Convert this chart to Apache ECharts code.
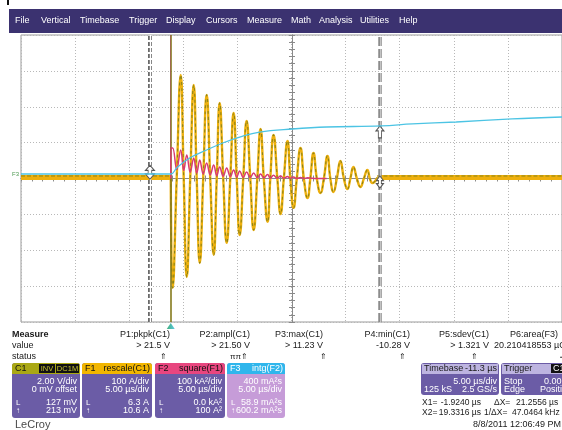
<!DOCTYPE html>
<html><head><meta charset="utf-8">
<script src="https://cdn.jsdelivr.net/npm/echarts@6/dist/echarts.min.js"></script>
<style>html,body{margin:0;padding:0;background:#fff}#c{width:562px;height:430px}</style>
</head><body><div id="c"></div>
<script>
// ---- screen / timebase ----
const T_LEFT = -13.84;          // µs at left edge of screen (trigger at 0)
const X1_CURSOR = -1.924;       // µs
const X2_CURSOR = 19.3316;      // µs

// ---- C1 / F1 ringing: peaks, troughs and baseline crossings (µs, V) ----
const c1Times = [0, 0.18, 0.55, 0.92, 1.20, 1.48, 1.80, 2.12, 2.40, 2.68, 3.00, 3.32, 3.65, 3.97, 4.25, 4.52, 4.85, 5.17, 5.50, 5.81, 6.10, 6.37, 6.70, 7.01, 7.35, 7.66, 8.00, 8.30, 8.60, 8.95, 9.20, 9.50, 9.85, 10.15, 10.45, 10.79, 11.05, 11.35, 11.65, 11.99, 12.30, 12.64, 12.90, 13.19, 13.50, 13.84, 14.15, 14.48, 14.75, 15.04, 15.35, 15.68, 16.00, 16.33, 16.60, 16.88, 17.20, 17.53, 17.85, 18.17, 18.40, 18.63, 19.10];
const c1Volts = [0, -6.10, 0, 5.77, 0, -5.49, 0, 5.21, 0, -4.71, 0, 4.66, 0, -4.26, 0, 4.21, 0, -3.59, 0, 3.65, 0, -3.15, 0, 3.21, 0, -2.87, 0, 2.76, 0, -2.42, 0, 2.43, 0, -1.98, 0, 2.09, 0, -1.64, 0, 1.70, 0, -1.09, 0, 1.42, 0, -0.81, 0, 1.26, 0, -0.75, 0, 0.98, 0, -0.59, 0, 0.64, 0, -0.47, 0, 0.47, 0, -0.25, 0.05];
// flat baseline before trigger and after ringing
const baseTimesPre = [-13.84, 0];
const baseTimesPost = [19.10, 36.20];
const baseLevel = 0.05;

// ---- F2 square(F1) (screen units, V-equivalent) ----
const f2Times = [0, 0.02, 0.18, 0.55, 0.92, 1.20, 1.48, 1.80, 2.12, 2.40, 2.68, 3.00, 3.32, 3.65, 3.97, 4.25, 4.52, 4.85, 5.17, 5.50, 5.81, 6.10, 6.37, 6.70, 7.01, 7.35, 7.66, 8.00, 8.30, 8.60, 8.95, 9.20, 9.50, 9.85, 10.15, 10.45, 10.79, 11.05, 11.35, 11.65, 11.99, 12.30, 12.64, 13.5, 14.4];
const f2Vals  = [0, 1.70, 1.70, 0.50, 1.59, 0.45, 1.31, 0.35, 1.14, 0.30, 1.03, 0.25, 0.87, 0.20, 0.75, 0.15, 0.64, 0.12, 0.59, 0.10, 0.47, 0.08, 0.42, 0.06, 0.36, 0.05, 0.31, 0.04, 0.25, 0.03, 0.22, 0.02, 0.18, 0.02, 0.14, 0.01, 0.11, 0.01, 0.08, 0.0, 0.06, 0.0, 0.04, 0.0, 0.0];

// ---- F3 intg(F2) ----
const f3Times = [-13.84, 0, 0.55, 1.75, 3.32, 4.80, 6.37, 8.21, 11.25, 14.39, 19.46, 22.32, 26.38, 31.55, 36.20];
const f3Vals  = [0.25, 0.25, 0.59, 1.14, 1.59, 1.98, 2.31, 2.59, 2.76, 2.87, 2.93, 3.04, 3.15, 3.32, 3.43];

// ---- texts ----
const menuItems = ['File','Vertical','Timebase','Trigger','Display','Cursors','Measure','Math','Analysis','Utilities','Help'];
const menuX = [15, 41, 80, 129, 166, 206, 247, 291, 319, 360, 399];
const measNames = ['P1:pkpk(C1)','P2:ampl(C1)','P3:max(C1)','P4:min(C1)','P5:sdev(C1)'];
const measValues = ['> 21.5 V','> 21.50 V','> 11.23 V','-10.28 V','> 1.321 V'];
const measStatus = ['\u21D1','\u03C0\u03C0\u21D1','\u21D1','\u21D1','\u21D1'];
const p6Name = 'P6:area(F3)';
const p6Value = '20.210418553 \u00B5C';

const chanTitles = ['C1','F1','F2','F3'];
const chanFuncs = ['','rescale(C1)','square(F1)','intg(F2)'];
const chanLines = [
  ['2.00 V/div','0 mV offset','127 mV','213 mV'],
  ['100 A/div','5.00 \u00B5s/div','6.3 A','10.6 A'],
  ['100 kA\u00B2/div','5.00 \u00B5s/div','0.0 kA\u00B2','100 A\u00B2'],
  ['400 mA\u00B2s','5.00 \u00B5s/div','58.9 mA\u00B2s','600.2 mA\u00B2s']
];

const toXY = (ts, vs) => ts.map((t, i) => [t - T_LEFT, vs[i]]);

const GOLD = '#eeb00e', OLIVE = '#8c8416', PINK = '#d93a72', CYAN = '#4cc4e4';
const FONT = '"Liberation Sans", Arial, sans-serif';

const chart = echarts.init(document.getElementById('c'), null, {renderer: 'canvas'});

const tickAxis = (pos, isX) => ({
  type: 'value', min: isX ? 0 : -8, max: isX ? 50 : 8, interval: isX ? 5 : 2,
  position: pos, offset: isX ? -143.5 : -271,
  axisLine: {show: true, lineStyle: {color: '#8a8a8a', width: 1}},
  axisTick: {show: true, length: 3, lineStyle: {color: '#8a8a8a'}},
  minorTick: {show: true, splitNumber: 5, length: 3, lineStyle: {color: '#8a8a8a'}},
  axisLabel: {show: false},
  splitLine: {show: false}
});

const xMain = tickAxis('bottom', true);
xMain.splitLine = {show: true, lineStyle: {color: '#b8b8b8', type: [1, 2], width: 1}};
const yMain = tickAxis('left', false);
yMain.splitLine = {show: true, lineStyle: {color: '#b8b8b8', type: [1, 2], width: 1}};

const option = {
  animation: false,
  backgroundColor: '#ffffff',
  grid: {left: 21, top: 35, width: 542, height: 287, show: true, borderColor: '#9a9a9a', borderWidth: 1, backgroundColor: '#ffffff'},
  xAxis: [xMain, tickAxis('top', true)],
  yAxis: [yMain, tickAxis('right', false)],
  series: [
    {type: 'line', name: 'band-pre', data: toXY(baseTimesPre, [baseLevel, baseLevel]), showSymbol: false, z: 2,
     lineStyle: {color: GOLD, width: 5}},
    {type: 'line', name: 'band-post', data: toXY(baseTimesPost, [baseLevel, baseLevel]), showSymbol: false, z: 2,
     lineStyle: {color: GOLD, width: 5}},
    {type: 'line', name: 'F1', data: toXY(c1Times, c1Volts), showSymbol: false, smooth: 0.5, z: 3,
     lineStyle: {color: GOLD, width: 2.4}},
    {type: 'line', name: 'C1', data: toXY(c1Times, c1Volts), showSymbol: false, smooth: 0.5, z: 4,
     lineStyle: {color: OLIVE, width: 1.1, type: [3, 3]},
     markLine: {silent: true, symbol: 'none', label: {show: false},
       data: [[{coord: [0 - T_LEFT, 8], lineStyle: {color: '#857a1c', width: 1.6, type: 'solid'}}, {coord: [0 - T_LEFT, -8]}],
              [{coord: [0 - T_LEFT, 8], lineStyle: {color: '#a0305a', width: 0.8, type: 'solid', opacity: 0.55}}, {coord: [0 - T_LEFT, 0]}]]}},
    {type: 'line', name: 'noise-pre', data: toXY(baseTimesPre, [0.14, 0.14]), showSymbol: false, z: 4,
     lineStyle: {color: OLIVE, width: 1, type: [4, 2]}},
    {type: 'line', name: 'noise-post', data: toXY(baseTimesPost, [0.14, 0.14]), showSymbol: false, z: 4,
     lineStyle: {color: OLIVE, width: 1, type: [4, 2]}},
    {type: 'line', name: 'F2', data: toXY(f2Times, f2Vals), showSymbol: false, smooth: 0.4, z: 5,
     lineStyle: {color: PINK, width: 1.5}},
    {type: 'line', name: 'F3', data: toXY(f3Times, f3Vals), showSymbol: false, smooth: 0.4, z: 6,
     lineStyle: {color: CYAN, width: 1.3},
     markPoint: {silent: true, symbol: 'path://M5,0 L10,5 L7,5 L7,12 L3,12 L3,5 L0,5 Z', symbolSize: [8, 12],
       symbolOffset: [0, 6], itemStyle: {color: '#ffffff', borderColor: '#555', borderWidth: 1}, label: {show: false},
       data: [{coord: [X2_CURSOR - T_LEFT, 2.93]}]}},
    {type: 'line', name: 'cursors', data: [], z: 10,
     markLine: {silent: true, symbol: 'none', label: {show: false},
       data: [
         {xAxis: X1_CURSOR - T_LEFT, lineStyle: {color: '#6a6a6a', width: 4, type: [4, 2]}},
         {xAxis: X1_CURSOR - T_LEFT, lineStyle: {color: '#ffffff', width: 1.4, type: 'solid'}},
         {xAxis: X2_CURSOR - T_LEFT, lineStyle: {color: '#8c8c8c', width: 3.5, type: [9, 3]}},
         {xAxis: X2_CURSOR - T_LEFT, lineStyle: {color: '#c4c4c4', width: 1, type: [9, 3]}}
       ]},
     markPoint: {silent: true, symbol: 'path://M5,0 L10,6 L7,6 L7,10 L10,10 L5,16 L0,10 L3,10 L3,6 L0,6 Z', symbolSize: [9, 14],
       itemStyle: {color: '#ffffff', borderColor: '#555', borderWidth: 1}, label: {show: false},
       data: [{coord: [X1_CURSOR - T_LEFT, 0.35]}, {coord: [X2_CURSOR - T_LEFT, -0.2], symbolSize: [7, 12]}]}}
  ]
};
chart.setOption(option);

// ---------- decorations / texts ----------
const G = [];
const txt = (text, x, y, o = {}) => G.push({type: 'text', z: 100, silent: true, style: {
  text, x, y, fill: o.fill || '#1a1a1a', font: (o.bold ? 'bold ' : '') + (o.size || 9) + 'px ' + FONT,
  textAlign: o.align || 'left', textVerticalAlign: 'middle', verticalAlign: 'middle'}});
const rect = (x, y, w, h, fill, o = {}) => G.push({type: 'rect', z: o.z || 90, silent: true,
  shape: {x, y, width: w, height: h, r: o.r || 0}, style: {fill, stroke: o.stroke || null, lineWidth: o.lw || 0}});

// top-left mark and menu bar
rect(7, 0, 2, 5, '#111');
rect(9, 9, 560, 24, '#3b3270');
menuItems.forEach((m, i) => txt(m, menuX[i], 21, {fill: '#ffffff', size: 9}));

// F3 trace label at left
txt('F3', 12, 174, {fill: '#4e9a52', size: 6});

// trigger marker
const trig = chart.convertToPixel({xAxisIndex: 0, yAxisIndex: 0}, [0 - T_LEFT, -8]);
G.push({type: 'polygon', z: 100, silent: true, shape: {points: [[trig[0] - 4, trig[1] + 7], [trig[0] + 4, trig[1] + 7], [trig[0], trig[1] + 1]]},
  style: {fill: new echarts.graphic.LinearGradient(0, 0, 1, 0, [{offset: 0, color: '#3fae7a'}, {offset: 1, color: '#5cc8e0'}])}});

// measure table
txt('Measure', 12, 335, {bold: true});
txt('value', 12, 346);
txt('status', 12, 357);
const measRight = [170, 250, 323, 410, 489];
const statusX = [167, 248, 327, 406, 478];
measNames.forEach((n, i) => {
  txt(n, measRight[i], 335, {align: 'right'});
  txt(measValues[i], measRight[i], 346, {align: 'right'});
  txt(measStatus[i], statusX[i], 357, {align: 'right', size: 8});
});
txt(p6Name, 510, 335);
txt(p6Value, 494, 346);
txt('\u2022', 560, 357, {size: 6});

// channel boxes
const boxX = [12, 82, 155, 227], boxW = [68, 70, 70, 58];
const heads = ['#aaa814', '#f2b600', '#e8467f', '#2fb6ec'];
const bodies = ['#6b5ca6', '#6b5ca6', '#6b5ca6', '#c69cd8'];
boxX.forEach((bx, i) => {
  const bw = boxW[i];
  rect(bx, 363, bw, 55, bodies[i], {r: 3});
  rect(bx, 363, bw, 11, heads[i], {r: [3, 3, 0, 0], z: 91});
  txt(chanTitles[i], bx + 3, 369, {fill: i === 3 ? '#ffffff' : '#111'});
  if (i === 0) {
    rect(bx + 27, 364, 16, 9, '#111', {z: 92});
    rect(bx + 44, 364, 23, 9, '#111', {z: 92});
    txt('INV', bx + 35, 369, {fill: '#c8c430', align: 'center', size: 7.5});
    txt('DC1M', bx + 55.5, 369, {fill: '#c8c430', align: 'center', size: 7.5});
  } else {
    txt(chanFuncs[i], bx + bw - 2, 369, {align: 'right', fill: i === 3 ? '#ffffff' : '#111'});
  }
  const L = chanLines[i];
  txt(L[0], bx + bw - 3, 382, {align: 'right', fill: '#fff'});
  txt(L[1], bx + bw - 3, 390, {align: 'right', fill: '#fff'});
  txt(L[2], bx + bw - 3, 403, {align: 'right', fill: '#fff'});
  txt(L[3], bx + bw - 3, 411, {align: 'right', fill: '#fff'});
  txt('L', bx + 4, 403, {fill: '#fff', size: 8});
  txt('\u2191', bx + 4, 411, {fill: '#fff', size: 8});
});
txt('LeCroy', 15, 425, {size: 11, fill: '#4a4a4a'});

// timebase / trigger boxes
rect(421, 363, 78, 32, '#6b5ca6', {r: 3});
rect(422, 364, 76, 10, '#bdb4e0', {z: 91});
txt('Timebase', 424, 369);
txt('-11.3 \u00B5s', 497, 369, {align: 'right'});
txt('5.00 \u00B5s/div', 497, 382, {align: 'right', fill: '#fff'});
txt('125 kS', 424, 390, {fill: '#fff'});
txt('2.5 GS/s', 497, 390, {align: 'right', fill: '#fff'});

rect(501, 363, 70, 32, '#6b5ca6', {r: 3});
rect(502, 364, 68, 10, '#bdb4e0', {z: 91});
txt('Trigger', 504, 369);
rect(551, 364, 16, 9, '#111', {z: 92});
txt('C1', 553, 369, {fill: '#fff'});
txt('Stop', 504, 382, {fill: '#fff'});
txt('0.00 V', 544, 382, {fill: '#fff'});
txt('Edge', 504, 390, {fill: '#fff'});
txt('Positive', 540, 390, {fill: '#fff'});

// cursor readouts
const CF = {size: 8.5};
txt('X1=', 422, 403, CF);
txt('-1.9240 \u00B5s', 481, 403, {size: 8.5, align: 'right'});
txt('\u0394X=', 494, 403, CF);
txt('21.2556 \u00B5s', 516, 403, CF);
txt('X2=', 422, 413, CF);
txt('19.3316 \u00B5s', 481, 413, {size: 8.5, align: 'right'});
txt('1/\u0394X=', 484, 413, CF);
txt('47.0464 kHz', 512, 413, CF);
txt('8/8/2011 12:06:49 PM', 561, 425, {align: 'right'});

chart.setOption({graphic: G});
</script></body></html>
